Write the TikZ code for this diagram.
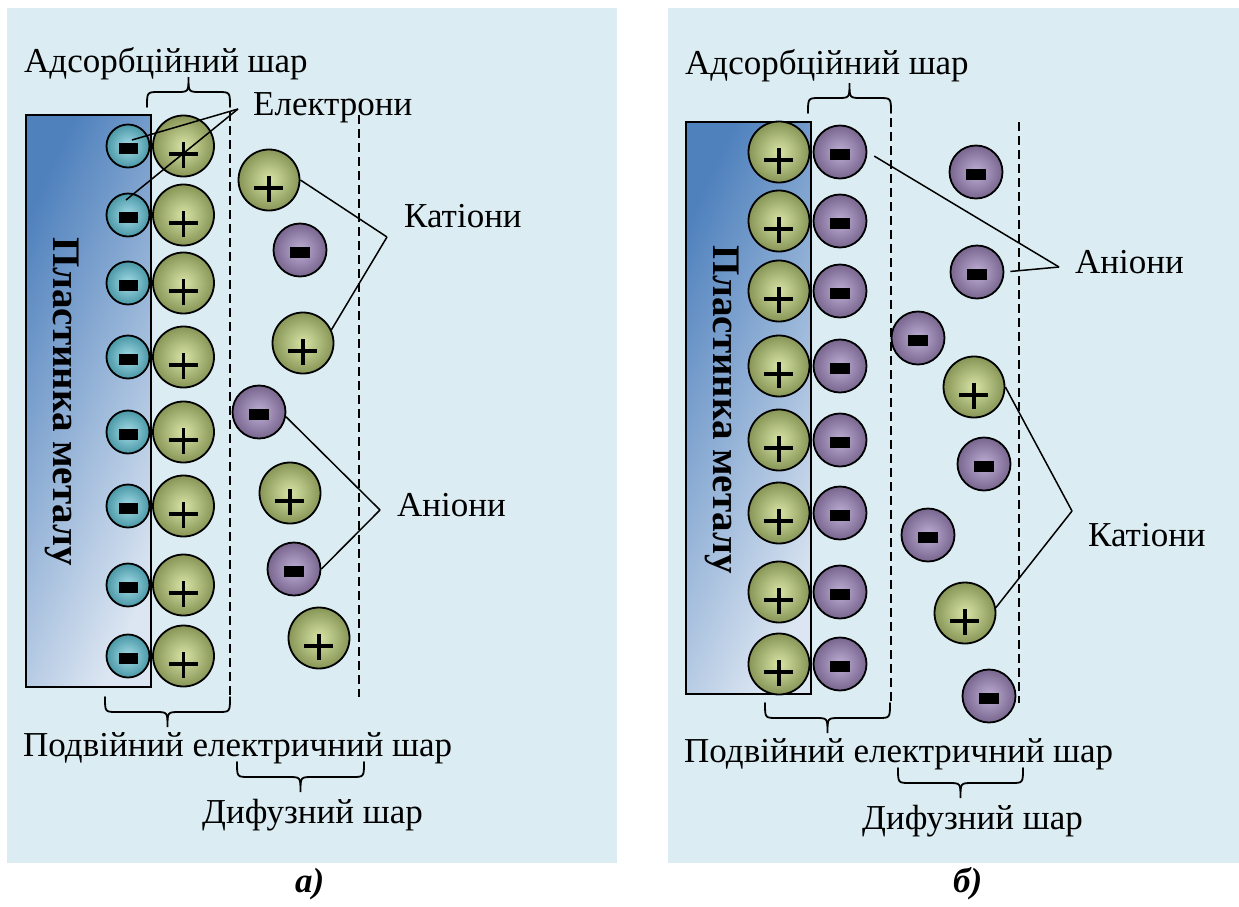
\documentclass[tikz,border=0pt]{standalone}
\usepackage{fontspec}
\setmainfont{Liberation Serif}
\usetikzlibrary{calc}

\definecolor{panelbg}{HTML}{DBEDF3}
\definecolor{platedark}{HTML}{4F81BD}
\definecolor{platelight}{HTML}{DCE6F2}
\definecolor{catin}{HTML}{D7E4A6}
\definecolor{catout}{HTML}{879657}
\definecolor{anin}{HTML}{BFAED6}
\definecolor{anout}{HTML}{78668E}
\definecolor{elin}{HTML}{A5DDE8}
\definecolor{elout}{HTML}{4A97A6}

\tikzset{
  panel/.style={fill=panelbg, draw=none},
  plate/.style={draw=black, line width=1.8pt, inner sep=0pt,
    minimum width=125pt, minimum height=572pt,
    left color=platedark, right color=platelight, shading angle=65},
  ion/.style={circle, draw=black, line width=1.8pt, inner sep=0pt},
  plussign/.style={path picture={
    \draw[line width=3.3pt]
      ([xshift=-15pt,yshift=-8pt]path picture bounding box.center) --
      ([xshift=14pt,yshift=-8pt]path picture bounding box.center)
      ([yshift=4pt]path picture bounding box.center) --
      ([yshift=-22pt]path picture bounding box.center);}},
  minussign/.style={path picture={
    \fill ([xshift=-#1,yshift=-8pt]path picture bounding box.center) rectangle
          ([xshift=#1,yshift=3pt]path picture bounding box.center);}},
  cation/.style={ion, minimum size=61pt, inner color=catin, outer color=catout, plussign},
  anion/.style={ion, minimum size=53pt, inner color=anin, outer color=anout, minussign=10pt},
  electron/.style={ion, minimum size=43pt, inner color=elin, outer color=elout, minussign=9.5pt},
  leader/.style={draw=black, line width=1.5pt},
  layerline/.style={draw=black, line width=1.8pt, dash pattern=on 9pt off 5pt},
  bracepen/.style={draw=black, line width=1.8pt, line cap=round},
  lbl/.style={font=\fontsize{35}{42}\selectfont, inner sep=0pt, anchor=base west},
  platelbl/.style={font=\bfseries\fontsize{39}{46}\selectfont, inner sep=0pt,
    anchor=base west, rotate=-90},
  caption/.style={font=\bfseries\itshape\fontsize{35}{40}\selectfont, inner sep=0pt,
    anchor=base west},
  pics/braceup/.style={code={
    \draw[bracepen] (-#1,0) .. controls (-#1,-15) .. (-#1+12,-15) -- (-12,-15)
      .. controls (0,-15) .. (0,-30) .. controls (0,-15) .. (12,-15) -- (#1-12,-15)
      .. controls (#1,-15) .. (#1,0);}},
  pics/bracedown/.style={code={
    \draw[bracepen] (-#1,0) .. controls (-#1,15) .. (-#1+12,15) -- (-12,15)
      .. controls (0,15) .. (0,30) .. controls (0,15) .. (12,15) -- (#1-12,15)
      .. controls (#1,15) .. (#1,0);}},
}

\begin{document}
\begin{tikzpicture}[x=1pt,y=-1pt]
\useasboundingbox (0,0) rectangle (1239,906);
\fill[white] (0,0) rectangle (1239,906);

% ---------- panel (a): metal plate with electrons ----------
\fill[panel] (7,8) rectangle (617,863);
\node[plate] (platea) at (88.5,401) {};
\node[platelbl] (plabela) at (53,237) {Пластинка металу};

\draw[layerline] (230,112) -- (230,697);
\draw[layerline] (359,115) -- (359,697);

\foreach \yy [count=\i] in {146,215,283,357,432,506,585,656} {
  \node[electron] (e\i) at (128,\yy) {};
  \node[cation] (ka\i) at (183.5,\yy) {};
}

\node[cation] (ca1) at (269,180) {};
\node[anion]  (an1) at (300,250) {};
\node[cation] (ca2) at (303,343) {};
\node[anion]  (an2) at (259,412) {};
\node[cation] (ca3) at (290,493) {};
\node[anion]  (an3) at (294,569) {};
\node[cation] (ca4) at (319,638) {};

\pic at (188.5,107) {braceup=41.5};
\pic at (167.5,697) {bracedown=62.5};
\pic at (300.5,762) {bracedown=63.5};

\node[lbl] (adsa) at (24,72) {Адсорбційний шар};
\node[lbl] (elec) at (253,115) {Електрони};
\node[lbl] (kata) at (404,227) {Катіони};
\node[lbl] (ania) at (397,516) {Аніони};
\node[lbl] (dbla) at (23,756) {Подвійний електричний шар};
\node[lbl] (difa) at (202,823) {Дифузний шар};

\coordinate (vel) at (238,109);
\draw[leader] (vel) -- ($(e1)+(4,-6)$);
\draw[leader] (vel) -- ($(e2)+(-2,-15)$);
\coordinate (vka) at (387,237);
\draw[leader] (vka) -- (ca1.east);
\draw[leader] (vka) -- (ca2.25);
\coordinate (vaa) at (380,510);
\draw[leader] (vaa) -- (an2.-10);
\draw[leader] (vaa) -- (an3.east);

\node[caption] (capa) at (295,892) {а)};

% ---------- panel (b): metal plate with adsorbed cations ----------
\fill[panel] (668,8) rectangle (1239,863);
\node[plate] (plateb) at (748.5,408) {};
\node[platelbl] (plabelb) at (713,245) {Пластинка металу};

\draw[layerline] (891,118) -- (891,703);
\draw[layerline] (1019,122) -- (1019,703);

\foreach \yy [count=\i] in {152,221,291,366,440,513,592,664} {
  \node[cation] (kb\i) at (779,\yy) {};
  \node[anion] (ab\i) at (840,\yy) {};
}

\node[anion]  (bd1) at (976,172) {};
\node[anion]  (bd2) at (977,272) {};
\node[anion]  (bd3) at (918,338) {};
\node[cation] (bc1) at (974,387) {};
\node[anion]  (bd4) at (984,464) {};
\node[anion]  (bd5) at (928,535) {};
\node[cation] (bc2) at (965,613) {};
\node[anion]  (bd6) at (989,696) {};

\pic at (849.5,113) {braceup=41.5};
\pic at (827.5,703) {bracedown=62.5};
\pic at (960.5,768) {bracedown=62.5};

\node[lbl] (adsb) at (685,74) {Адсорбційний шар};
\node[lbl] (anib) at (1075,273) {Аніони};
\node[lbl] (katb) at (1088,546) {Катіони};
\node[lbl] (dblb) at (684,762) {Подвійний електричний шар};
\node[lbl] (difb) at (862,829) {Дифузний шар};

\coordinate (vab) at (1059,267);
\draw[leader, shorten >=8pt] (vab) -- (ab1.east);
\draw[leader, shorten >=6pt] (vab) -- (bd2.east);
\coordinate (vkb) at (1072,511);
\draw[leader] (vkb) -- (bc1.east);
\draw[leader] (vkb) -- (bc2.10);

\node[caption] (capb) at (953,892) {б)};
\end{tikzpicture}
\end{document}
